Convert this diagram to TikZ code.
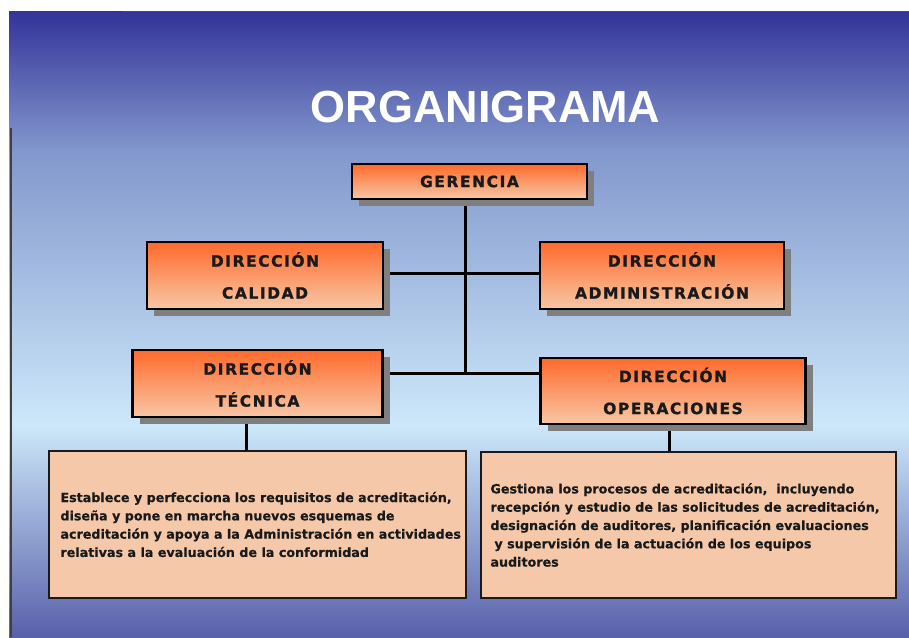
\documentclass[tikz,border=0pt]{standalone}
\usepackage{fontspec}
\setmainfont{Liberation Sans}
\newfontfamily\labfont[LetterSpace=10,BoldFeatures={FakeBold=1.2}]{DejaVu Sans}
\newfontfamily\descfont[BoldFeatures={FakeBold=0.4}]{DejaVu Sans}
\usetikzlibrary{shadows}
\pgfdeclarelayer{back}
\pgfdeclarelayer{mid}
\pgfsetlayers{back,mid,main}
\definecolor{bgtop}{HTML}{333399}
\definecolor{bgmid}{HTML}{8297CC}
\definecolor{bglight}{HTML}{CDE8FA}
\definecolor{bgbot}{HTML}{5860AA}
\definecolor{orTop}{HTML}{FF6A2C}
\definecolor{orBot}{HTML}{F7C7A5}
\definecolor{peach}{HTML}{F4C8A8}
\definecolor{shadowgray}{HTML}{7F7F7F}
\definecolor{txt}{HTML}{1A1A1A}
\tikzset{
  orgbox/.style={draw=black, line width=2.2pt, top color=orTop, bottom color=orBot,
    drop shadow={shadow xshift=7pt, shadow yshift=-7pt, fill=shadowgray, opacity=1},
    font=\labfont\bfseries\fontsize{15.5}{32}\selectfont, text=txt, align=center, inner sep=0pt},
  descbox/.style={draw=txt, line width=1.5pt, fill=peach, inner sep=0pt},
  desctext/.style={font=\descfont\bfseries\fontsize{12.7}{18.3}\selectfont, text=txt, align=left, inner sep=0pt, anchor=west},
  conn/.style={draw=black, line width=3pt},
  titlestyle/.style={font=\bfseries\fontsize{45}{54}\selectfont, text=white, inner sep=0pt}
}
\begin{document}
\begin{tikzpicture}[x=1pt,y=-1pt]
\useasboundingbox (0,0) rectangle (909,637);
\begin{pgfonlayer}{back}
\fill[white] (0,0) rectangle (909,637);
\shade[top color=bgtop, bottom color=bgmid] (9,11) rectangle (909,150.5);
\shade[top color=bgmid, bottom color=bglight] (9,150) rectangle (909,425);
\shade[top color=bglight, bottom color=bgbot] (9,424.5) rectangle (909,637);
\draw[line width=1.2pt, draw=black!75] (11,128) -- (11,637);
\draw[line width=1.2pt, draw=black!70] (123,11.6) -- (909,11.6);
\end{pgfonlayer}

\node[titlestyle] (title) at (485.5,107) {ORGANIGRAMA};

\node[orgbox, minimum width=235pt, minimum height=35pt] (ger) at (469.5,181.5) {GERENCIA};
\node[orgbox, minimum width=236pt, minimum height=67pt] (cal) at (265,275.5) {DIRECCIÓN\\CALIDAD};
\node[orgbox, minimum width=244pt, minimum height=67pt] (adm) at (662,275.5) {DIRECCIÓN\\ADMINISTRACIÓN};
\node[orgbox, minimum width=250pt, minimum height=67pt] (tec) at (257.5,383.5) {DIRECCIÓN\\TÉCNICA};
\node[orgbox, minimum width=265pt, minimum height=66pt] (ope) at (673,391) {DIRECCIÓN\\OPERACIONES};

\node[descbox, minimum width=417pt, minimum height=147pt] (d1) at (257.5,524.5) {};
\node[descbox, minimum width=415pt, minimum height=146pt] (d2) at (688.5,525) {};

\node[desctext] (t1) at ([xshift=12pt]d1.west) {Establece y perfecciona los requisitos de acreditación,\\diseña y pone en marcha nuevos esquemas de\\acreditación y apoya a la Administración en actividades\\relativas a la evaluación de la conformidad};
\node[desctext] (t2) at ([xshift=10pt]d2.west) {Gestiona los procesos de acreditación,\ \ incluyendo\\recepción y estudio de las solicitudes de acreditación,\\designación de auditores, planificación evaluaciones\\\hspace*{4pt}y supervisión de la actuación de los equipos\\auditores};

\coordinate (j1) at (465,273);
\coordinate (j2) at (465,373);
\coordinate (k1) at (246,440);
\coordinate (k2) at (669,440);
\begin{pgfonlayer}{mid}
\draw[conn] (ger.south -| j1) -- (j2);
\draw[conn] (cal.east |- j1) -- (adm.west |- j1);
\draw[conn] (tec.east |- j2) -- (ope.west |- j2);
\draw[conn] (tec.south -| k1) -- (d1.north -| k1);
\draw[conn] (ope.south -| k2) -- (d2.north -| k2);
\end{pgfonlayer}
\end{tikzpicture}
\end{document}
